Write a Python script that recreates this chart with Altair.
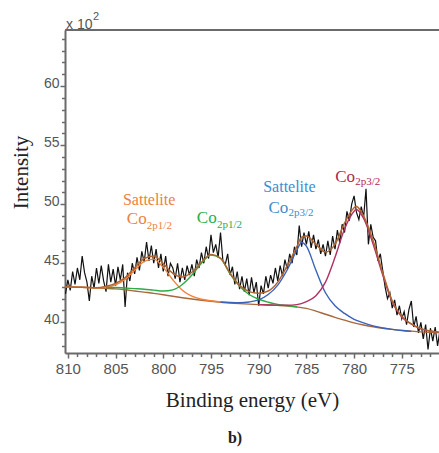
import altair as alt
import numpy as np
import pandas as pd

# ---------------- data ----------------
raw_e = np.round(np.arange(810.25, 770.99, -0.25), 2)
raw_i = [42.4, 43.6,
         42.7, 44.3, 43.2, 44.6,
         43.6, 45.6, 44.2, 43.4,
         41.8, 43.9, 42.9, 44.6,
         43.3, 44.8, 43.5, 42.6,
         44.9, 43.4, 44.5, 43.1,
         44.7, 43.6, 44.9, 41.3,
         44.2, 43.5, 45.0, 44.1,
         45.5, 44.4, 46.0, 45.1,
         46.8, 45.2, 46.5, 45.0,
         46.2, 44.6, 45.8, 44.3,
         45.6, 43.9, 45.0, 44.6,
         43.7, 45.0, 43.4, 44.6,
         43.6, 44.8, 44.0, 44.9,
         43.9, 45.3, 44.6, 45.9,
         45.0, 46.4, 45.4, 47.4,
         45.9, 46.6, 45.5, 47.6,
         45.2, 44.9, 45.8, 44.0,
         44.7, 43.2, 44.3, 42.8,
         43.9, 42.6, 43.7, 42.3,
         43.8, 42.5, 43.4, 41.4,
         43.1, 42.4, 43.9, 42.9,
         44.0, 43.3, 44.6, 43.5,
         44.8, 43.9, 45.3, 44.5,
         45.8, 45.0, 46.4, 45.7,
         48.2, 46.4, 47.6, 46.6,
         47.7, 46.3, 47.4, 46.2,
         47.0, 45.8, 46.6, 45.6,
         46.9, 45.7, 47.3, 46.2,
         47.8, 46.7, 48.3, 47.6,
         49.4, 48.6, 50.0, 50.7,
         49.3, 48.7, 49.8, 48.9,
         51.3, 46.6, 48.3, 47.2,
         46.9, 45.2, 45.8, 44.4,
         43.0, 42.0, 42.5, 41.2,
         41.9, 40.6, 41.4, 40.3,
         40.9, 39.8, 41.1, 41.8,
         39.6, 40.5, 39.1, 40.0,
         38.6, 39.8, 37.7, 39.5,
         38.4, 39.6, 38.0, 39.3]

bg_e = [811, 810, 809, 808, 807, 806, 805, 804, 803, 802, 801, 800, 799, 798, 797,
        796, 795, 794, 793, 792, 791, 790, 789, 788, 787, 786, 785, 784, 783, 782,
        781, 780, 779, 778, 777, 776, 775, 774, 773, 772, 771, 770]
bg_v = [43.05, 43.0, 42.97, 42.95, 42.9, 42.87, 42.83, 42.75, 42.65, 42.55, 42.45,
        42.33, 42.2, 42.08, 41.97, 41.87, 41.78, 41.7, 41.63, 41.58, 41.54, 41.5,
        41.47, 41.43, 41.38, 41.3, 41.18, 40.95, 40.68, 40.42, 40.18, 39.95, 39.77,
        39.62, 39.5, 39.4, 39.32, 39.25, 39.19, 39.15, 39.12, 39.1]

sat12_e = [811, 810, 809, 808, 807, 806, 805, 804, 803, 802, 801, 800, 799, 798, 797, 796, 795, 794]
sat12_v = [43.05, 43.0, 42.97, 42.95, 42.92, 42.97, 43.18, 43.63, 44.41, 45.15, 45.35,
           44.65, 43.6, 42.72, 42.21, 41.95, 41.82, 41.72]

p12_e = [806, 805, 804, 803, 802, 801, 800, 799, 798, 797, 796, 795, 794, 793, 792,
         791, 790, 789, 788, 787, 786]
p12_v = [42.95, 42.95, 42.9, 42.85, 42.8, 42.72, 42.65, 42.75, 43.2, 44.0, 45.0, 45.7,
         45.4, 44.1, 43.05, 42.35, 41.95, 41.7, 41.52, 41.42, 41.32]

sat32_e = [794, 793, 792, 791, 790, 789, 788, 787, 786, 785.5, 785, 784, 783, 782,
           781, 780, 779, 778, 777, 776, 775, 774]
sat32_v = [41.72, 41.68, 41.66, 41.72, 41.9, 42.35, 43.15, 44.45, 46.1, 46.76, 46.45,
           44.4, 42.5, 41.4, 40.75, 40.25, 39.95, 39.7, 39.52, 39.4, 39.3, 39.23]

p32_e = [790, 789, 788, 787, 786, 785, 784, 783, 782, 781, 780, 779.8, 779, 778,
         777, 776, 775, 774, 773, 772, 771, 770]
p32_v = [41.5, 41.47, 41.45, 41.45, 41.5, 41.75, 42.25, 43.4, 45.5, 47.9, 49.4, 49.55,
         48.8, 46.6, 44.0, 41.7, 40.45, 39.85, 39.45, 39.25, 39.15, 39.1]

env_e = [811, 810, 809, 808, 807, 806, 805, 804, 803, 802, 801, 800, 799, 798, 797,
         796, 795, 794, 793, 792, 791, 790, 789, 788, 787, 786, 785.5, 785, 784, 783,
         782, 781, 780, 779.8, 779, 778, 777, 776, 775, 774, 773, 772, 771, 770]
env_v = [43.05, 43.0, 42.97, 42.95, 42.92, 43.05, 43.3, 43.78, 44.61, 45.4, 45.62,
         44.97, 44.15, 43.84, 44.24, 45.08, 45.74, 45.44, 44.15, 43.13, 42.6, 42.45,
         42.65, 43.4, 44.8, 46.4, 47.2, 47.3, 46.6, 45.95, 46.6, 48.4, 49.7, 49.82,
         49.0, 46.9, 44.2, 41.8, 40.5, 39.87, 39.46, 39.26, 39.15, 39.1]

x_major = [775, 780, 785, 790, 795, 800, 805, 810]
x_minor = [v for v in range(772, 811) if v % 5 != 0]
y_major = [40, 45, 50, 55, 60]
y_minor = [v for v in range(38, 65) if v % 5 != 0]

# annotations: (energy, intensity, text, colour, font size)
ann_center = pd.DataFrame({
    "e": [801.48, 786.78],
    "v": [49.95, 51.07],
    "t": ["Sattelite", "Sattelite"],
    "c": ["#EE8040", "#3C8DD2"],
    "s": [16, 16],
})
ann_left = pd.DataFrame({
    "e": [803.82, 801.72, 796.48, 794.38, 788.97, 786.87, 781.98, 779.88],
    "v": [48.34, 47.92, 48.40, 47.96, 49.25, 48.96, 51.92, 51.64],
    "t": ["Co", "2p1/2", "Co", "2p1/2", "Co", "2p3/2", "Co", "2p3/2"],
    "c": ["#EE8040", "#EE8040", "#22B14C", "#22B14C", "#3C8DD2", "#3C8DD2",
          "#B5264F", "#B5264F"],
    "s": [17, 11, 17, 11, 17, 11, 17, 11],
})

# ---------------- chart ----------------
W, H = 374, 323
xdom = [771.1, 810.3]
ydom = [37.4, 64.75]
GRAY = "#6a6a6a"
LBL = "#555555"
SERIF = "Liberation Serif, Times New Roman, serif"
SANS = "Liberation Sans, Arial, sans-serif"

xs = alt.Scale(domain=xdom, reverse=True, nice=False, zero=False)
ys = alt.Scale(domain=ydom, nice=False, zero=False)

x_axis_major = alt.Axis(values=x_major, orient="bottom", title="Binding energy (eV)",
                        tickSize=5, tickWidth=1.5, tickColor=GRAY,
                        domainColor=GRAY, domainWidth=2,
                        labelFont=SANS, labelFontSize=15, labelColor=LBL,
                        labelPadding=3, labelFlush=False,
                        titleFont=SERIF, titleFontSize=21,
                        titleFontWeight="normal", titleColor="#222222",
                        titleBaseline="alphabetic", titleY=53, grid=False)
y_axis_major = alt.Axis(values=y_major, orient="left", title="Intensity",
                        tickSize=5, tickWidth=1.5, tickColor=GRAY,
                        domainColor=GRAY, domainWidth=2,
                        labelFont=SANS, labelFontSize=14, labelColor=LBL,
                        labelPadding=1, labelBaseline="alphabetic", labelOffset=1,
                        titleFont=SERIF, titleFontSize=21,
                        titleFontWeight="normal", titleColor="#222222",
                        titleAngle=270, titleAlign="center", titleBaseline="alphabetic",
                        titleX=-38, titleY=142, grid=False)
x_axis_minor = alt.Axis(values=x_minor, orient="bottom", title=None, labels=False,
                        domain=False, tickSize=3.5, tickWidth=1.5, tickColor=GRAY,
                        grid=False)
y_axis_minor = alt.Axis(values=y_minor, orient="left", title=None, labels=False,
                        domain=False, tickSize=3.5, tickWidth=1.5, tickColor=GRAY,
                        grid=False)

raw_df = pd.DataFrame({"e": raw_e, "v": raw_i})
raw = alt.Chart(raw_df).mark_line(color="#111111", strokeWidth=1.2, clip=True).encode(
    x=alt.X("e:Q", scale=xs, axis=x_axis_major),
    y=alt.Y("v:Q", scale=ys, axis=y_axis_major),
)


def curve(es, vs, color, axes=False, width=1.4):
    df = pd.DataFrame({"e": es, "v": vs})
    return alt.Chart(df).mark_line(color=color, strokeWidth=width, clip=True,
                                   interpolate="monotone").encode(
        x=alt.X("e:Q", scale=xs, axis=x_axis_minor if axes else None),
        y=alt.Y("v:Q", scale=ys, axis=y_axis_minor if axes else None),
    )


bg = curve(bg_e, bg_v, "#A8673A", axes=True)
c1 = curve(sat12_e, sat12_v, "#F0823A")
c2 = curve(p12_e, p12_v, "#2EAA46")
c3 = curve(sat32_e, sat32_v, "#3A62B8")
c4 = curve(p32_e, p32_v, "#B03060")
env = curve(env_e, env_v, "#B0652F", width=1.5)

t_center = alt.Chart(ann_center).mark_text(font=SERIF, align="center",
                                            baseline="alphabetic").encode(
    x=alt.X("e:Q", scale=xs, axis=None),
    y=alt.Y("v:Q", scale=ys, axis=None),
    text="t:N",
    color=alt.Color("c:N", scale=None),
    size=alt.Size("s:Q", scale=None),
)
t_left = alt.Chart(ann_left).mark_text(font=SERIF, align="left",
                                        baseline="alphabetic").encode(
    x=alt.X("e:Q", scale=xs, axis=None),
    y=alt.Y("v:Q", scale=ys, axis=None),
    text="t:N",
    color=alt.Color("c:N", scale=None),
    size=alt.Size("s:Q", scale=None),
)

deco = pd.DataFrame({"k": [0]})
top_rule = alt.Chart(deco).mark_rule(color=GRAY, strokeWidth=2).encode(
    x=alt.value(0), x2=alt.value(W), y=alt.value(0))
x10 = alt.Chart(deco).mark_text(text="x 10", font=SANS, fontSize=14,
                                color=LBL, align="left", baseline="alphabetic").encode(
    x=alt.value(1), y=alt.value(-1))
sup2 = alt.Chart(deco).mark_text(text="2", font=SANS, fontSize=11,
                                 color=LBL, align="left", baseline="alphabetic").encode(
    x=alt.value(28), y=alt.value(-10))
blabel = alt.Chart(deco).mark_text(text="b)", font=SERIF, fontSize=16,
                                   fontWeight="bold", color="#222222", align="center",
                                   baseline="alphabetic").encode(
    x=alt.value(170), y=alt.value(413))

chart = alt.layer(raw, bg, c1, c2, c3, c4, env, t_center, t_left,
                  top_rule, x10, sup2, blabel).resolve_axis(
    x="independent", y="independent"
).properties(
    width=W, height=H,
    autosize=alt.AutoSizeParams(type="none"),
    padding={"left": 65, "top": 30, "right": 0, "bottom": 100},
).configure_view(stroke=None).configure(background="white")

chart.save("out.html", embed_options={"renderer": "svg", "actions": False})
